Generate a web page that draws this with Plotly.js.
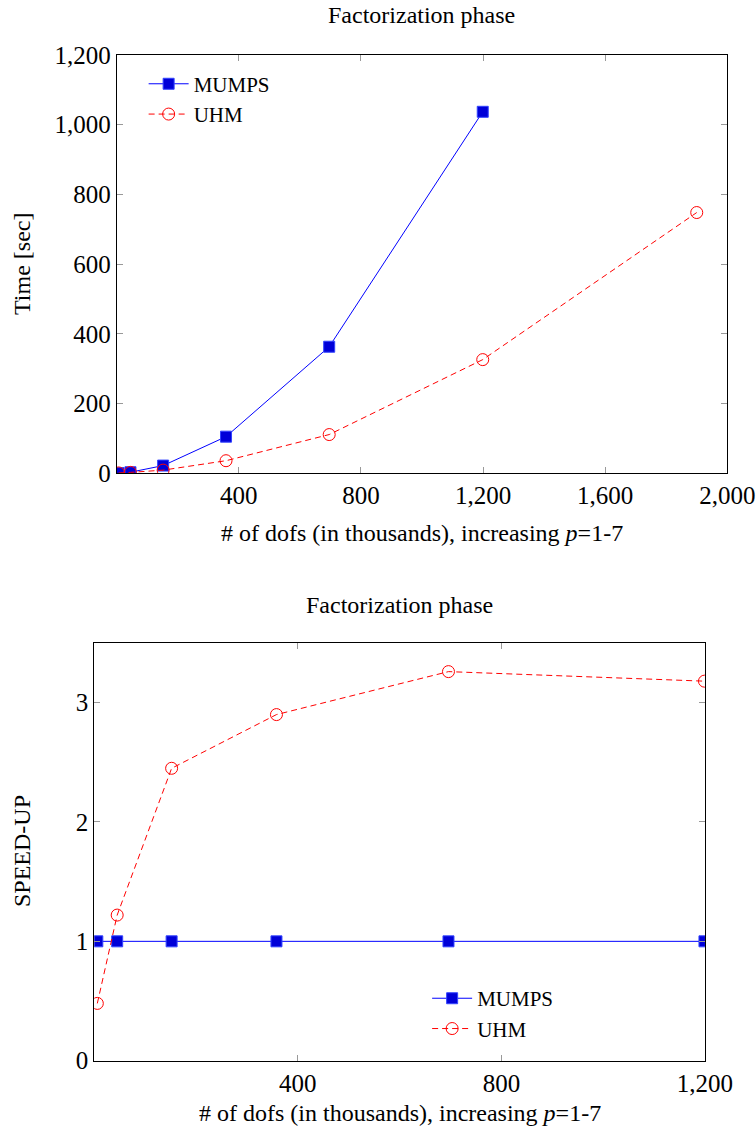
<!DOCTYPE html>
<html>
<head>
<meta charset="utf-8">
<script src="https://cdn.plot.ly/plotly-3.0.1.min.js"></script>
<style>html,body{margin:0;padding:0;background:#fff;}#chart{width:756px;height:1136px;}</style>
</head>
<body>
<div id="chart"></div>
<script>
// Data (dofs in thousands)
var dofs = [6, 45, 152, 358, 696, 1199, 1900];
var mumpsTime = [0.5, 3, 22, 105, 363, 1037];
var uhmTime = [1, 2.5, 9, 36, 111, 326, 748];
var mumpsSpeedup = [1, 1, 1, 1, 1, 1];
var uhmSpeedup = [0.48, 1.22, 2.45, 2.9, 3.26, 3.18];
var topXTicks = [400, 800, 1200, 1600, 2000];
var topYTicks = [0, 200, 400, 600, 800, 1000, 1200];
var botXTicks = [400, 800, 1200];
var botYTicks = [0, 1, 2, 3];

var FONT = 'Liberation Serif, Times New Roman, serif';
var mumpsMarker = {symbol: 'square', size: 11, color: '#0000d8', line: {color: '#3344ff', width: 1}};
var uhmMarker = {symbol: 'circle-open', size: 12, color: 'red', line: {color: 'red', width: 1}};

var traces = [
  {x: dofs.slice(0, mumpsTime.length), y: mumpsTime, name: 'MUMPS', mode: 'lines+markers',
   line: {color: 'blue', width: 1}, marker: mumpsMarker, xaxis: 'x', yaxis: 'y', legend: 'legend'},
  {x: dofs, y: uhmTime, name: 'UHM', mode: 'lines+markers',
   line: {color: 'red', width: 1, dash: '6px,4px'}, marker: uhmMarker, xaxis: 'x', yaxis: 'y', legend: 'legend'},
  {x: dofs.slice(0, mumpsSpeedup.length), y: mumpsSpeedup, name: 'MUMPS', mode: 'lines+markers',
   line: {color: 'blue', width: 1}, marker: mumpsMarker, xaxis: 'x2', yaxis: 'y2', legend: 'legend2'},
  {x: dofs.slice(0, uhmSpeedup.length), y: uhmSpeedup, name: 'UHM', mode: 'lines+markers',
   line: {color: 'red', width: 1, dash: '6px,4px'}, marker: uhmMarker, xaxis: 'x2', yaxis: 'y2', legend: 'legend2'}
];

function axis(extra) {
  var a = {
    showline: true, linecolor: '#000', linewidth: 1, mirror: 'allticks',
    ticks: 'inside', ticklen: 6, tickcolor: '#999', tickwidth: 1,
    showgrid: false, zeroline: false, tickmode: 'array',
    tickfont: {family: FONT, size: 25, color: '#000'}
  };
  for (var k in extra) a[k] = extra[k];
  return a;
}

var layout = {
  width: 756, height: 1136,
  margin: {l: 0, r: 0, t: 0, b: 0},
  paper_bgcolor: '#fff', plot_bgcolor: '#fff',
  font: {family: FONT, size: 24, color: '#000'},
  xaxis: axis({domain: [0.1544, 0.962], anchor: 'y', range: [0, 2000], tickvals: topXTicks, tickformat: ',d'}),
  yaxis: axis({domain: [0.5834, 0.9516], anchor: 'x', range: [0, 1200], tickvals: topYTicks, tickformat: ',d'}),
  xaxis2: axis({domain: [0.1247, 0.9325], anchor: 'y2', range: [0, 1200], tickvals: botXTicks, tickformat: ',d'}),
  yaxis2: axis({domain: [0.0663, 0.434], anchor: 'x2', range: [0, 3.5], tickvals: botYTicks}),
  showlegend: true,
  legend: {x: 0.19, y: 0.944, xanchor: 'left', yanchor: 'top', bgcolor: 'rgba(0,0,0,0)',
           font: {family: FONT, size: 21}, tracegroupgap: 0, itemwidth: 40},
  legend2: {x: 0.565, y: 0.139, xanchor: 'left', yanchor: 'top', bgcolor: 'rgba(0,0,0,0)',
            font: {family: FONT, size: 21}, tracegroupgap: 0, itemwidth: 40},
  annotations: [
    {text: 'Factorization phase', x: 0.558, y: 1 - 15/1136, xref: 'paper', yref: 'paper', showarrow: false, xanchor: 'center', yanchor: 'middle', font: {family: FONT, size: 24}},
    {text: '# of dofs (in thousands), increasing <i>p</i>=1-7', x: 0.558, y: 1 - 533/1136, xref: 'paper', yref: 'paper', showarrow: false, xanchor: 'center', yanchor: 'middle', font: {family: FONT, size: 24}},
    {text: 'Time [sec]', x: 22/756, y: 1 - 264/1136, xref: 'paper', yref: 'paper', showarrow: false, textangle: -90, xanchor: 'center', yanchor: 'middle', font: {family: FONT, size: 24}},
    {text: 'Factorization phase', x: 0.5287, y: 1 - 605/1136, xref: 'paper', yref: 'paper', showarrow: false, xanchor: 'center', yanchor: 'middle', font: {family: FONT, size: 24}},
    {text: '# of dofs (in thousands), increasing <i>p</i>=1-7', x: 0.5287, y: 1 - 1113/1136, xref: 'paper', yref: 'paper', showarrow: false, xanchor: 'center', yanchor: 'middle', font: {family: FONT, size: 24}},
    {text: 'SPEED-UP', x: 22/756, y: 1 - 851/1136, xref: 'paper', yref: 'paper', showarrow: false, textangle: -90, xanchor: 'center', yanchor: 'middle', font: {family: FONT, size: 24}}
  ]
};

Plotly.newPlot('chart', traces, layout, {displayModeBar: false, staticPlot: true});
</script>
</body>
</html>
